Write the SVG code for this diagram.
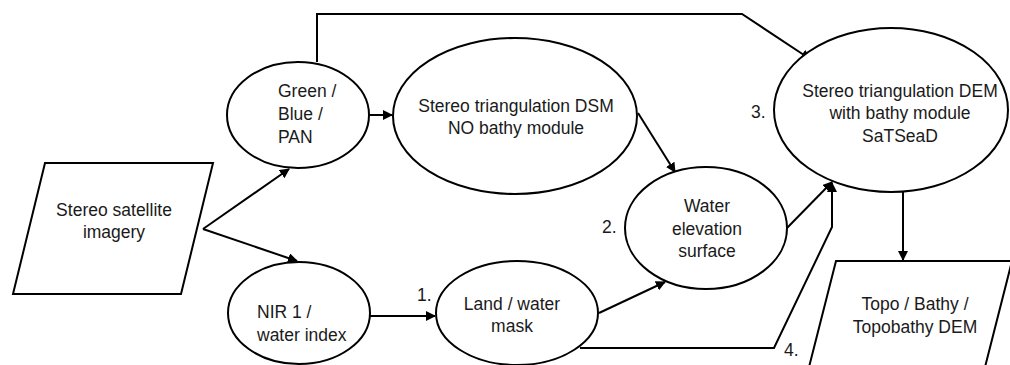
<svg xmlns="http://www.w3.org/2000/svg" width="1010" height="365" viewBox="0 0 1010 365">
<style>
.s{fill:#fff;stroke:#000;stroke-width:2}
.t{font-family:"Liberation Sans",Arial,sans-serif;font-size:17.5px;fill:#1a1a1a}
.m{text-anchor:middle}
.c{fill:none;stroke:#000;stroke-width:2}
</style>
<defs>
<marker id="a" viewBox="0 0 10 10" refX="9" refY="5" markerWidth="5" markerHeight="5" orient="auto" markerUnits="strokeWidth">
<path d="M0,0 L10,5 L0,10 z" fill="#000"/>
</marker>
</defs>
<rect width="1010" height="365" fill="#fff"/>
<g id="connectors">
<path class="c" d="M203,229 L289,169" marker-end="url(#a)"/>
<path class="c" d="M203,229 L297,261" marker-end="url(#a)"/>
<path class="c" d="M370,115 L392,115" marker-end="url(#a)"/>
<path class="c" d="M317,62 L317,14 L742,14 L810,59" marker-end="url(#a)"/>
<path class="c" d="M638,113 L675,172" marker-end="url(#a)"/>
<path class="c" d="M370,316 L435,316" marker-end="url(#a)"/>
<path class="c" d="M599,313 L665,282" marker-end="url(#a)"/>
<path class="c" d="M787,228 L832,182" marker-end="url(#a)"/>
<path class="c" d="M580,348 L774,348 L832,227 L832,183" marker-end="url(#a)"/>
<path class="c" d="M903,192 L903,260" marker-end="url(#a)"/>
</g>
<g id="imagery">
<polygon class="s" points="45,163 213,163 181,294 13,294"/>
<text class="t m" x="114" y="216">Stereo satellite</text>
<text class="t m" x="114" y="238">imagery</text>
</g>
<g id="green">
<ellipse class="s" cx="298" cy="115" rx="71" ry="53"/>
<text class="t" x="278" y="97">Green /</text>
<text class="t" x="278" y="120">Blue /</text>
<text class="t" x="278" y="143">PAN</text>
</g>
<g id="dsm">
<ellipse class="s" cx="515" cy="116" rx="122" ry="78"/>
<text class="t m" x="516" y="112">Stereo triangulation DSM</text>
<text class="t m" x="516" y="134">NO bathy module</text>
</g>
<g id="nir">
<ellipse class="s" cx="299" cy="313" rx="71" ry="51"/>
<text class="t" x="257" y="318">NIR 1 /</text>
<text class="t" x="257" y="341">water index</text>
</g>
<g id="land">
<ellipse class="s" cx="517" cy="313" rx="81" ry="52"/>
<text class="t m" x="512" y="310">Land / water</text>
<text class="t m" x="512" y="332">mask</text>
<text class="t" x="417" y="301">1.</text>
</g>
<g id="water">
<ellipse class="s" cx="706" cy="228" rx="81" ry="61"/>
<text class="t m" x="707" y="212">Water</text>
<text class="t m" x="707" y="235">elevation</text>
<text class="t m" x="707" y="257">surface</text>
<text class="t" x="602" y="233">2.</text>
</g>
<g id="dem">
<ellipse class="s" cx="891" cy="110" rx="117" ry="82"/>
<text class="t m" x="900" y="97">Stereo triangulation DEM</text>
<text class="t m" x="900" y="119">with bathy module</text>
<text class="t m" x="900" y="142">SaTSeaD</text>
<text class="t" x="751" y="118">3.</text>
</g>
<g id="output">
<polygon class="s" points="836,261 1012,261 983,375 807,375"/>
<text class="t m" x="915" y="310">Topo / Bathy /</text>
<text class="t m" x="915" y="333">Topobathy DEM</text>
<text class="t" x="784" y="356">4.</text>
</g>
</svg>
